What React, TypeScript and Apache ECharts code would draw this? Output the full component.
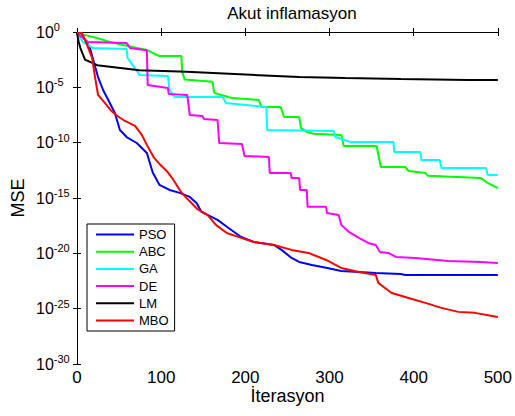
import React, { useEffect, useRef } from "react";
import * as echarts from "echarts";

// [iteration, log10(MSE)]
const PSO: [number, number][] = [
  [0, -0.1], [6, -0.27], [15, -1.36], [21, -2.98], [25, -4.07], [31, -5.24], [39, -6.41], [45, -7.32],
  [51, -8.85], [59, -9.49], [71, -10.03], [83, -10.93], [90, -12.7], [98, -13.82], [110, -14.27],
  [122, -14.54], [134, -14.9], [142, -15.45], [148, -16.26], [155, -16.53], [167, -16.98], [178, -17.6],
  [195, -18.52], [210, -18.97], [234, -19.24], [243, -19.69], [255, -20.42], [264, -20.78], [279, -21.05],
  [296, -21.3], [314, -21.6], [335, -21.68], [355, -21.77], [385, -21.86], [390, -21.95], [500, -21.95],
];
const ABC: [number, number][] = [
  [0, -0.1], [24, -0.54], [39, -0.9], [66, -1.35], [83, -1.63], [98, -2.17], [124, -2.17], [125, -3.6],
  [128, -4.3], [161, -4.5], [163, -5.5], [184, -5.96], [216, -6.14], [219, -6.78], [242, -6.78],
  [246, -7.68], [264, -7.68], [266, -8.67], [273, -9.03], [281, -9.2], [314, -9.3], [317, -10.3],
  [356, -10.3], [361, -12.2], [390, -12.2], [394, -12.56], [414, -12.74], [417, -13.0], [480, -13.2],
  [488, -13.64], [500, -14.1],
];
const GA: [number, number][] = [
  [0, -0.1], [7, -0.9], [19, -1.45], [59, -1.54], [60, -2.35], [72, -3.6], [74, -3.88], [108, -3.97],
  [110, -5.24], [116, -5.87], [173, -5.87], [177, -6.41], [225, -6.78], [226, -8.85], [305, -8.94],
  [307, -9.49], [325, -9.94], [376, -9.94], [377, -10.84], [408, -10.84], [409, -11.56], [431, -11.56],
  [433, -12.29], [486, -12.29], [488, -12.92], [500, -12.92],
];
const DE: [number, number][] = [
  [0, -0.1], [13, -0.9], [59, -1.0], [63, -1.45], [80, -1.63], [83, -1.63], [84, -4.79], [108, -5.06],
  [109, -5.6], [131, -5.69], [134, -7.5], [149, -7.59], [151, -7.86], [167, -7.95], [169, -10.03],
  [196, -10.12], [199, -11.2], [228, -11.29], [229, -12.74], [254, -12.74], [255, -13.19], [264, -13.19],
  [265, -14.27], [273, -14.27], [274, -15.8], [296, -15.8], [297, -16.35], [311, -16.53], [314, -17.43],
  [323, -18.07], [335, -18.6], [346, -19.06], [355, -19.24], [360, -19.87], [370, -19.96], [379, -20.33],
  [402, -20.42], [441, -20.69], [480, -20.78], [500, -20.87],
];
const LM: [number, number][] = [
  [0, -0.1], [2, -0.9], [4, -1.45], [9.5, -2.5], [24, -3.0], [74, -3.45], [130, -3.6], [216, -3.9],
  [264, -4.07], [319, -4.16], [385, -4.25], [465, -4.34], [500, -4.34],
];
const MBO: [number, number][] = [
  [0, -0.1], [6, -0.1], [12, -1.17], [18, -2.35], [21, -3.88], [25, -5.69], [33, -6.41], [41, -7.14],
  [48, -7.59], [57, -8.04], [69, -8.49], [77, -9.3], [83, -10.2], [91, -11.3], [99, -12.0], [107, -12.6],
  [114, -13.3], [124, -14.5], [134, -15.3], [143, -16.0], [155, -16.53], [165, -17.43], [178, -18.16],
  [195, -18.6], [210, -18.97], [234, -19.24], [255, -19.69], [275, -19.96], [296, -20.6], [314, -21.32],
  [335, -21.68], [355, -21.95], [358, -22.67], [366, -23.13], [374, -23.58], [394, -24.03], [414, -24.48],
  [433, -24.93], [453, -25.29], [473, -25.38], [500, -25.75],
];

const seriesNames = ["PSO", "ABC", "GA", "DE", "LM", "MBO"];
const seriesData = [PSO, ABC, GA, DE, LM, MBO];
const seriesColors = ["#0000ff", "#00ff00", "#00ffff", "#ff00ff", "#000000", "#ff0000"];

const FONT = "'Liberation Sans', Arial, Helvetica, sans-serif";

export default function App() {
  const ref = useRef<HTMLDivElement>(null);
  useEffect(() => {
    const chart = echarts.init(ref.current!, null, { renderer: "svg" });
    const axisLine = { show: true, lineStyle: { color: "#000", width: 1 } };
    const option: any = {
      animation: false,
      backgroundColor: "#fff",
      textStyle: { fontFamily: FONT, color: "#000" },
      grid: { left: 77, right: 15, top: 32, bottom: 52, containLabel: false },
      graphic: [
        {
          type: "text",
          x: 292,
          y: 13,
          style: {
            text: "Akut inflamasyon",
            fontFamily: FONT,
            fontSize: 17,
            fill: "#000",
            align: "center",
            verticalAlign: "middle",
          },
        },
      ],
      legend: {
        orient: "vertical",
        left: 87,
        top: 224,
        itemWidth: 38,
        itemHeight: 14,
        itemGap: 4.2,
        padding: [4, 6, 4, 8],
        borderColor: "#000",
        borderWidth: 1,
        backgroundColor: "#fff",
        textStyle: { fontSize: 13, color: "#000", fontFamily: FONT },
        data: seriesNames,
      },
      xAxis: [
        {
          type: "value",
          position: "bottom",
          min: 0,
          max: 500,
          interval: 100,
          axisLine,
          axisTick: { show: true, inside: true, length: 4, lineStyle: { color: "#000" } },
          axisLabel: { fontSize: 17, color: "#000", fontFamily: FONT, margin: 5 },
          splitLine: { show: false },
          name: "İterasyon",
          nameLocation: "middle",
          nameGap: 23,
          nameMoveOverlap: false,
          nameTextStyle: { fontSize: 18, color: "#000", fontFamily: FONT },
        },
        {
          type: "value",
          position: "top",
          min: 0,
          max: 500,
          interval: 100,
          axisLine,
          axisTick: { show: true, inside: true, length: 4, lineStyle: { color: "#000" } },
          axisLabel: { show: false },
          splitLine: { show: false },
        },
      ],
      yAxis: [
        {
          type: "value",
          position: "left",
          min: -30,
          max: 0,
          interval: 5,
          axisLine,
          axisTick: { show: true, inside: true, length: 4, lineStyle: { color: "#000" } },
          axisLabel: {
            margin: 41,
            align: "left",
            color: "#000",
            formatter: (v: number) => `{b|10}{s|${v}}`,
            rich: {
              b: { fontSize: 16, fontFamily: FONT, color: "#000" },
              s: { fontSize: 11, fontFamily: FONT, color: "#000", padding: [0, 0, 10, 0] },
            },
          },
          splitLine: { show: false },
          name: "MSE",
          nameLocation: "middle",
          nameGap: 50,
          nameMoveOverlap: false,
          nameTextStyle: { fontSize: 18, color: "#000", fontFamily: FONT },
        },
        {
          type: "value",
          position: "right",
          min: -30,
          max: 0,
          interval: 5,
          axisLine,
          axisTick: { show: true, inside: true, length: 4, lineStyle: { color: "#000" } },
          axisLabel: { show: false },
          splitLine: { show: false },
        },
      ],
      series: seriesNames.map((name, i) => ({
        name,
        type: "line",
        xAxisIndex: 0,
        yAxisIndex: 0,
        data: seriesData[i],
        symbol: "none",
        color: seriesColors[i],
        itemStyle: { color: seriesColors[i], opacity: 0 },
        lineStyle: { color: seriesColors[i], width: 2 },
        clip: true,
      })),
    };
    chart.setOption(option);
    return () => chart.dispose();
  }, []);
  return (
    <div
      ref={ref}
      style={{ position: "absolute", left: 0, top: 0, width: 515, height: 416 }}
    />
  );
}
